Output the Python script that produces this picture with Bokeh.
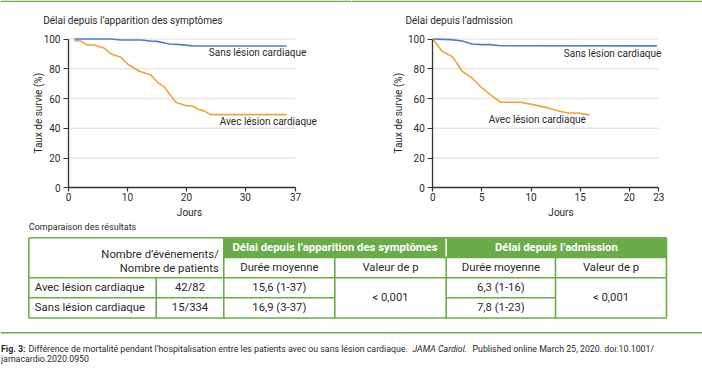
import math
from bokeh.plotting import figure
from bokeh.models import Range1d, Label, Span, FixedTicker
from bokeh.layouts import column, row
from bokeh.embed import file_html
from bokeh.resources import INLINE
from bokeh.core.properties import value

# ---------------- data ----------------
# Panel 1 : délai depuis l'apparition des symptômes
sym_days_avec = [1, 2, 3, 4.3, 6, 7.2, 8.9, 10, 12, 14, 15.1, 16.2, 18.2, 19.9, 21, 21.9, 23, 24.1, 37]
sym_surv_avec = [98.9, 98.7, 96.2, 96.0, 94.0, 89.9, 87.7, 83.2, 78.3, 75.8, 70.9, 68.0, 57.5, 55.2, 55.0, 53.0, 51.7, 49.2, 49.2]
sym_days_sans = [1, 7.2, 8.9, 12.3, 14.2, 15, 17.1, 19, 21, 37]
sym_surv_sans = [100, 100, 99.3, 99.3, 98.5, 98.4, 96.6, 96.2, 95.4, 95.3]
# Panel 2 : délai depuis l'admission
adm_days_avec = [0, 0.95, 2, 3, 4, 5, 6, 6.9, 8.9, 10.2, 11.7, 12.9, 13.8, 14.8, 15.9]
adm_surv_avec = [100, 91.7, 88.1, 78.3, 73.8, 67.1, 61.9, 57.5, 57.5, 55.9, 53.7, 51.4, 50.3, 50.3, 49.0]
adm_days_sans = [0, 1.8, 3, 4, 5, 5.9, 6.9, 22.8]
adm_surv_sans = [100, 99.6, 98.7, 96.6, 96.2, 96.2, 95.5, 95.4]

y_ticks = [0, 20, 40, 60, 80, 100]
sym_x_ticks = [0, 10, 20, 30, 38.5]
sym_x_labels = ["0", "10", "20", "30", "37"]
adm_x_ticks = [0, 5, 10, 15, 20, 23]
adm_x_labels = ["0", "5", "10", "15", "20", "23"]

series_names = ["Sans lésion cardiaque", "Avec lésion cardiaque"]
panel_titles = ["Délai depuis l’apparition des symptômes", "Délai depuis l’admission"]
x_title = "Jours"
y_title = "Taux de survie (%)"

table_title = "Comparaison des résultats"
corner_header = ["Nombre d’événements/", "Nombre de patients"]
group_headers = ["Délai depuis l’apparition des symptômes", "Délai depuis l’admission"]
sub_headers = ["Durée moyenne", "Valeur de p", "Durée moyenne", "Valeur de p"]
row_labels = ["Avec lésion cardiaque", "Sans lésion cardiaque"]
events = ["42/82", "15/334"]
sym_duree = ["15,6 (1-37)", "16,9 (3-37)"]
adm_duree = ["6,3 (1-16)", "7,8 (1-23)"]
p_values = ["< 0,001", "< 0,001"]

caption_fig = "Fig. 3:"
caption_main = "Différence de mortalité pendant l’hospitalisation entre les patients avec ou sans lésion cardiaque."
caption_journal = "JAMA Cardiol."
caption_rest = "Published online March 25, 2020. doi:10.1001/"
caption_line2 = "jamacardio.2020.0950"

# ---------------- style / layout ----------------
FONT = "Roboto"
BLUE = "#4c7dcf"
ORANGE = "#f1a33a"
GREEN = "#6aab4a"
TXT = "#2a2a2a"
AXIS = "#333333"
GRID = "#e6e6e6"

W, H = 702, 370
TOP_H = 219            # height of the chart row
Y0_PX, Y_UNIT = 187.3, 1.488   # page y of survival 0, px per %


def km_panel(curves, x_ticks, x_labels, left_px, x0_px, x_unit, title, title_px,
             ylab_px, jours_px, lab_px):
    # frame covers the whole figure; axes are pinned at the origin
    dx = lambda px: (px - x0_px) / x_unit
    dy = lambda py: (Y0_PX - py) / Y_UNIT
    p = figure(width=351, height=TOP_H,
               x_range=Range1d(dx(left_px), dx(left_px + 351)),
               y_range=Range1d(dy(TOP_H), dy(0)),
               output_backend="svg", toolbar_location=None, min_border=0)
    p.outline_line_color = None
    p.grid.visible = False
    x_end = x_ticks[-1]

    # light horizontal grid
    g = y_ticks[1:]
    p.segment(x0=[0] * len(g), x1=[x_end] * len(g), y0=g, y1=g, line_color=GRID, line_width=1.5)

    for ax in (p.xaxis[0], p.yaxis[0]):
        ax.fixed_location = 0
        ax.axis_line_color = AXIS
        ax.axis_line_width = 1.3
        ax.major_tick_line_color = AXIS
        ax.major_tick_line_width = 1.2
        ax.major_tick_in = 0
        ax.minor_tick_line_color = None
        ax.major_label_text_font = FONT
        ax.major_label_text_font_size = "10px"
        ax.major_label_text_color = TXT
    p.xaxis.ticker = FixedTicker(ticks=x_ticks)
    p.xaxis.major_label_overrides = dict(zip(x_ticks, x_labels))
    p.xaxis.bounds = (0, x_end)
    p.xaxis.major_tick_out = 4
    p.xaxis.major_label_standoff = 1
    p.yaxis.ticker = FixedTicker(ticks=y_ticks)
    p.yaxis.bounds = (0, 100)
    p.yaxis.major_tick_out = 5
    p.yaxis.major_label_standoff = 3

    for (xs, ys, color) in curves:
        p.line(xs, ys, line_color=color, line_width=1.6)

    def lab(text, px, align="left", angle=0.0):
        p.add_layout(Label(x=dx(px[0]), y=dy(px[1]), text=text, text_font=FONT,
                           text_font_size="10px", text_color=TXT, angle=angle,
                           text_baseline="middle", text_align=align))

    lab(title, title_px)
    lab(y_title, ylab_px, "center", math.pi / 2)
    lab(x_title, jours_px, "center")
    for name, pos in zip(series_names, lab_px):
        lab(name, pos)

    # thin green rule along the top of the page
    p.add_layout(Span(location=dy(0.8), dimension="width", line_color=GREEN, line_width=1.6))
    return p


p1 = km_panel([(sym_days_sans, sym_surv_sans, BLUE), (sym_days_avec, sym_surv_avec, ORANGE)],
              sym_x_ticks, sym_x_labels, 0, 68.0, 5.896, panel_titles[0],
              (42.7, 20), (37.5, 112.7), (189, 212), [(208.3, 52.3), (219.3, 121)])
p2 = km_panel([(adm_days_sans, adm_surv_sans, BLUE), (adm_days_avec, adm_surv_avec, ORANGE)],
              adm_x_ticks, adm_x_labels, 351, 432.3, 9.826, panel_titles[1],
              (405, 20), (397.7, 112.7), (560.5, 212), [(563.3, 53.3), (488.3, 119.3)])

# ---------------- table + caption ----------------
p3 = figure(width=W, height=H - TOP_H, x_range=Range1d(0, W), y_range=Range1d(H, TOP_H),
            output_backend="svg", toolbar_location=None,
            x_axis_location=None, y_axis_location=None, min_border=0)
p3.outline_line_color = None
p3.grid.visible = False

cx = [28.3, 155.7, 223.3, 334.3, 445.7, 555.0, 666.0]   # column borders
ry = [237.3, 257.0, 277.3, 297.3, 317.5]                # row borders

p3.quad(left=[cx[2]], right=[cx[6]], top=[ry[0]], bottom=[ry[1]],
        fill_color=GREEN, line_color=None)
h0 = [cx[0], cx[2], cx[0], cx[0], cx[4], cx[0]]
h1 = [cx[6], cx[6], cx[6], cx[3], cx[5], cx[6]]
hy = [ry[0], ry[1], ry[2], ry[3], ry[3], ry[4]]
p3.segment(x0=h0, x1=h1, y0=hy, y1=hy, line_color=GREEN, line_width=1.6)
v0 = [ry[0], ry[2], ry[0], ry[1], ry[1], ry[1], ry[0]]
p3.segment(x0=cx, x1=cx, y0=v0, y1=[ry[4]] * 7, line_color=GREEN, line_width=1.6)
p3.segment(x0=[cx[4]], x1=[cx[4]], y0=[ry[0] + 1], y1=[ry[1] - 1], line_color="white", line_width=1.6)

mid = lambda a, b: (a + b) / 2
TF = value(FONT)
TS = value("11.3px")

p3.text(x=[cx[0]], y=[226], text=[table_title], text_font=TF, text_font_size=value("9px"),
        text_color=TXT, text_baseline="middle", text_align="left")
p3.text(x=[cx[2] - 5, cx[2] - 5], y=[254.3, 267.7], text=corner_header, text_font=TF,
        text_font_size=TS, text_color=TXT, text_baseline="middle", text_align="right")
p3.text(x=[mid(cx[2], cx[4]), mid(cx[4], cx[6])], y=[mid(ry[0], ry[1])] * 2, text=group_headers,
        text_font=TF, text_font_size=TS, text_font_style="bold", text_color="white",
        text_baseline="middle", text_align="center")
p3.text(x=[mid(cx[2], cx[3]), mid(cx[3], cx[4]), mid(cx[4], cx[5]), mid(cx[5], cx[6])],
        y=[mid(ry[1], ry[2])] * 4, text=sub_headers, text_font=TF, text_font_size=TS,
        text_color=TXT, text_baseline="middle", text_align="center")
row_mid = [mid(ry[2], ry[3]), mid(ry[3], ry[4])]
p3.text(x=[cx[0] + 6] * 2, y=row_mid, text=row_labels, text_font=TF, text_font_size=TS,
        text_color=TXT, text_baseline="middle", text_align="left")
p3.text(x=[mid(cx[1], cx[2])] * 2 + [mid(cx[2], cx[3])] * 2 + [mid(cx[4], cx[5])] * 2,
        y=row_mid * 3, text=events + sym_duree + adm_duree, text_font=TF, text_font_size=TS,
        text_color=TXT, text_baseline="middle", text_align="center")
p3.text(x=[mid(cx[3], cx[4]), mid(cx[5], cx[6])], y=[mid(ry[2], ry[4])] * 2, text=p_values,
        text_font=TF, text_font_size=TS, text_color=TXT, text_baseline="middle", text_align="center")

# separator + caption
p3.add_layout(Span(location=332.3, dimension="width", line_color=GREEN, line_width=1.6))
CS = value("8.8px")
p3.text(x=[0.5], y=[348], text=[caption_fig], text_font=TF, text_font_size=CS, text_font_style="bold",
        text_color=TXT, text_baseline="middle", text_align="left")
p3.text(x=[28], y=[348], text=[caption_main], text_font=TF, text_font_size=CS,
        text_color=TXT, text_baseline="middle", text_align="left")
p3.text(x=[412], y=[348], text=[caption_journal], text_font=TF, text_font_size=CS, text_font_style="italic",
        text_color=TXT, text_baseline="middle", text_align="left")
p3.text(x=[472], y=[348], text=[caption_rest], text_font=TF, text_font_size=CS,
        text_color=TXT, text_baseline="middle", text_align="left")
p3.text(x=[0.5], y=[358.5], text=[caption_line2], text_font=TF, text_font_size=CS,
        text_color=TXT, text_baseline="middle", text_align="left")

layout = column(row(p1, p2, spacing=0), p3, spacing=0)
open("out.html", "w").write(file_html(layout, INLINE))
